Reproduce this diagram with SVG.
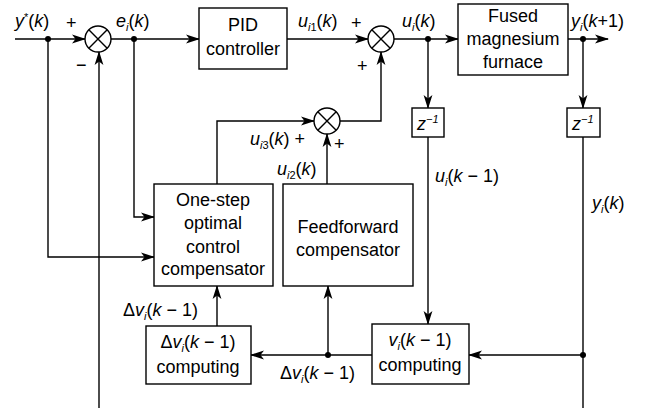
<svg xmlns="http://www.w3.org/2000/svg" width="654" height="409" viewBox="0 0 654 409">
<defs>
<marker id="ar" markerUnits="userSpaceOnUse" markerWidth="14" markerHeight="10" viewBox="0 0 14 10" refX="13" refY="5" orient="auto">
<path d="M0,0.6 L14,5 L0,9.4 L3.5,5 z" fill="#000"/>
</marker>
<style>
.ln{fill:none;stroke:#000;stroke-width:1.4;}
.a{marker-end:url(#ar);}
.bx{fill:#fff;stroke:#000;stroke-width:1.4;}
.sm{fill:#fff;stroke:#000;stroke-width:1.4;}
.dot{fill:#000;}
text{font-family:"Liberation Sans",Arial,sans-serif;font-size:18px;fill:#000;}
.c{text-anchor:middle;}
.it{font-style:italic;}
.sb{font-size:11px;font-style:italic;}
.sb2{font-size:11px;}
</style>
</defs>

<g id="connectors">
<path class="ln a" d="M15,39 L85,39"/>
<path class="ln a" d="M111,39 L199,39"/>
<path class="ln a" d="M287,39 L368,39"/>
<path class="ln a" d="M394,39 L458,39"/>
<path class="ln a" d="M568,39 L608,39"/>
<path class="ln a" d="M134,39 L134,217 L154,217"/>
<path class="ln a" d="M48,39 L48,257 L154,257"/>
<path class="ln a" d="M99,408 L99,52"/>
<path class="ln a" d="M217,184 L217,121 L314,121"/>
<path class="ln a" d="M327,184 L327,134"/>
<path class="ln a" d="M340,121 L381,121 L381,52"/>
<path class="ln a" d="M428,39 L428,108"/>
<path class="ln a" d="M428,137 L428,324"/>
<path class="ln a" d="M583,39 L583,108"/>
<path class="ln" d="M583,137 L583,408"/>
<path class="ln a" d="M583,355 L469,355"/>
<path class="ln a" d="M372,355 L251,355"/>
<path class="ln a" d="M328,355 L328,286"/>
<path class="ln a" d="M217,326 L217,286"/>
<circle class="dot" cx="48" cy="39" r="3"/>
<circle class="dot" cx="134" cy="39" r="3"/>
<circle class="dot" cx="428" cy="39" r="3"/>
<circle class="dot" cx="583" cy="39" r="3"/>
<circle class="dot" cx="583" cy="355" r="3"/>
<circle class="dot" cx="328" cy="355" r="3"/>
</g>

<g id="sum1">
<circle class="sm" cx="98" cy="39" r="13"/>
<path class="ln" d="M88.8,29.8 L107.2,48.2 M107.2,29.8 L88.8,48.2"/>
</g>
<g id="sum2">
<circle class="sm" cx="381" cy="39" r="13"/>
<path class="ln" d="M371.8,29.8 L390.2,48.2 M390.2,29.8 L371.8,48.2"/>
</g>
<g id="sum3">
<circle class="sm" cx="327" cy="121" r="13"/>
<path class="ln" d="M317.8,111.8 L336.2,130.2 M336.2,111.8 L317.8,130.2"/>
</g>

<g id="pid">
<rect class="bx" x="199" y="8" width="88" height="61"/>
<text class="c" x="243" y="31">PID</text>
<text class="c" x="243" y="55">controller</text>
</g>
<g id="furnace">
<rect class="bx" x="458" y="4" width="110" height="71"/>
<text class="c" x="513" y="22">Fused</text>
<text class="c" x="513" y="45">magnesium</text>
<text class="c" x="513" y="68">furnace</text>
</g>
<g id="z1">
<rect class="bx" x="412" y="108" width="32" height="29"/>
<text x="417" y="130" class="it">z<tspan class="sb2" dy="-7">−1</tspan></text>
</g>
<g id="z2">
<rect class="bx" x="567" y="108" width="33" height="29"/>
<text x="572" y="130" class="it">z<tspan class="sb2" dy="-7">−1</tspan></text>
</g>
<g id="optimal">
<rect class="bx" x="154" y="184" width="119" height="102"/>
<text class="c" x="213" y="206">One-step</text>
<text class="c" x="213" y="229">optimal</text>
<text class="c" x="213" y="253">control</text>
<text class="c" x="213" y="275">compensator</text>
</g>
<g id="feedforward">
<rect class="bx" x="283" y="184" width="130" height="102"/>
<text class="c" x="348" y="233">Feedforward</text>
<text class="c" x="348" y="256">compensator</text>
</g>
<g id="vcomp">
<rect class="bx" x="372" y="324" width="97" height="60"/>
<text class="c" x="420" y="346"><tspan class="it">v</tspan><tspan class="sb" dy="4">i</tspan><tspan dy="-4">(</tspan><tspan class="it">k</tspan> − 1)</text>
<text class="c" x="420" y="371">computing</text>
</g>
<g id="dvcomp">
<rect class="bx" x="146" y="326" width="105" height="58"/>
<text class="c" x="198" y="348">Δ<tspan class="it">v</tspan><tspan class="sb" dy="4">i</tspan><tspan dy="-4">(</tspan><tspan class="it">k</tspan> − 1)</text>
<text class="c" x="198" y="373">computing</text>
</g>

<g id="labels">
<text x="15" y="27"><tspan class="it">y</tspan><tspan class="sb2" dy="-6">*</tspan><tspan dy="6">(</tspan><tspan class="it">k</tspan>)</text>
<text x="66" y="29">+</text>
<text x="76" y="71">−</text>
<text x="116" y="27"><tspan class="it">e</tspan><tspan class="sb" dy="4">i</tspan><tspan dy="-4">(</tspan><tspan class="it">k</tspan>)</text>
<text x="298" y="27"><tspan class="it">u</tspan><tspan class="sb" dy="4">i</tspan><tspan class="sb2">1</tspan><tspan dy="-4">(</tspan><tspan class="it">k</tspan>)</text>
<text x="351" y="29">+</text>
<text x="357" y="72">+</text>
<text x="402" y="27"><tspan class="it">u</tspan><tspan class="sb" dy="4">i</tspan><tspan dy="-4">(</tspan><tspan class="it">k</tspan>)</text>
<text x="571" y="27"><tspan class="it">y</tspan><tspan class="sb" dy="4">i</tspan><tspan dy="-4">(</tspan><tspan class="it">k</tspan>+1)</text>
<text x="250" y="145"><tspan class="it">u</tspan><tspan class="sb" dy="4">i</tspan><tspan class="sb2">3</tspan><tspan dy="-4">(</tspan><tspan class="it">k</tspan>) +</text>
<text x="334" y="150">+</text>
<text x="277" y="175"><tspan class="it">u</tspan><tspan class="sb" dy="4">i</tspan><tspan class="sb2">2</tspan><tspan dy="-4">(</tspan><tspan class="it">k</tspan>)</text>
<text x="435" y="182"><tspan class="it">u</tspan><tspan class="sb" dy="4">i</tspan><tspan dy="-4">(</tspan><tspan class="it">k</tspan> − 1)</text>
<text x="592" y="209"><tspan class="it">y</tspan><tspan class="sb" dy="4">i</tspan><tspan dy="-4">(</tspan><tspan class="it">k</tspan>)</text>
<text x="123" y="316">Δ<tspan class="it">v</tspan><tspan class="sb" dy="4">i</tspan><tspan dy="-4">(</tspan><tspan class="it">k</tspan> − 1)</text>
<text x="280" y="379">Δ<tspan class="it">v</tspan><tspan class="sb" dy="4">i</tspan><tspan dy="-4">(</tspan><tspan class="it">k</tspan> − 1)</text>
</g>
</svg>
